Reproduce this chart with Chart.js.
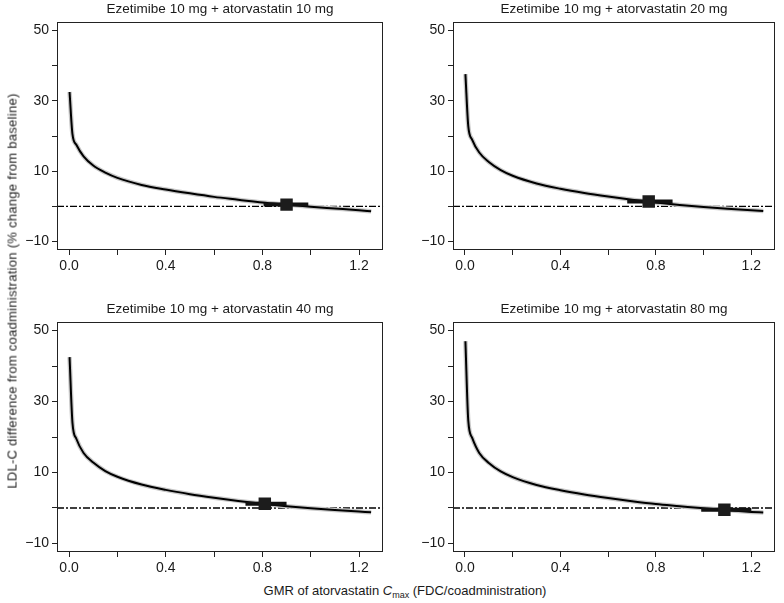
<!DOCTYPE html>
<html>
<head>
<meta charset="utf-8">
<script src="https://cdn.jsdelivr.net/npm/chart.js@4.4.1/dist/chart.umd.min.js"></script>
<style>
  html, body { margin: 0; padding: 0; background: #fff; }
  body { width: 784px; height: 603px; position: relative; overflow: hidden; font-family: "Liberation Sans", Arial, sans-serif; color: #1a1a1a; }
  canvas { position: absolute; }
  #ytitle { position: absolute; left: 12px; top: 291px; white-space: nowrap; font-size: 13px; letter-spacing: 0.28px; color: #222; transform: translate(-50%, -50%) rotate(-90deg); }
  #xtitle { position: absolute; left: 405px; top: 591px; white-space: nowrap; font-size: 13px; transform: translate(-50%, -50%); }
  #xtitle sub { font-size: 9px; vertical-align: -3px; }
</style>
</head>
<body>
<canvas id="c0"></canvas>
<canvas id="c1"></canvas>
<canvas id="c2"></canvas>
<canvas id="c3"></canvas>
<div id="ytitle">LDL-C difference from coadministration (% change from baseline)</div>
<div id="xtitle">GMR of atorvastatin <i>C</i><sub>max</sub> (FDC/coadministration)</div>
<script>
// ---- data ----
const panelTitles = [
  'Ezetimibe 10 mg + atorvastatin 10 mg',
  'Ezetimibe 10 mg + atorvastatin 20 mg',
  'Ezetimibe 10 mg + atorvastatin 40 mg',
  'Ezetimibe 10 mg + atorvastatin 80 mg'
];
const xTickLabels = ['0.0', '', '0.4', '', '0.8', '', '1.2'];
const yTickLabels = ['\u221210', '', '10', '', '30', '', '50'];
const curveX   = [0.002, 0.014, 0.03, 0.06, 0.1, 0.15, 0.2, 0.3, 0.4, 0.5, 0.6, 0.7, 0.8, 0.9, 1.0, 1.1, 1.2, 1.25];
const curve10  = [32.5, 20.5, 17.5, 14.2, 11.6, 9.6, 8.1, 6.1, 4.8, 3.7, 2.7, 1.9, 1.1, 0.5, -0.1, -0.6, -1.1, -1.4];
const curve20  = [37.6, 22.8, 19.0, 15.3, 12.6, 10.3, 8.7, 6.5, 5.0, 3.8, 2.8, 1.9, 1.1, 0.4, -0.2, -0.7, -1.1, -1.3];
const curve40  = [42.5, 24.0, 19.5, 15.5, 12.8, 10.4, 8.8, 6.6, 5.1, 3.9, 2.9, 2.0, 1.2, 0.5, -0.1, -0.6, -1.0, -1.2];
const curve80  = [47.0, 24.6, 19.8, 15.5, 12.7, 10.3, 8.7, 6.5, 5.0, 3.8, 2.8, 1.9, 1.1, 0.5, -0.1, -0.6, -1.1, -1.3];
const markerX  = [0.90, 0.77, 0.81, 1.087];
const markerY  = [0.5, 1.4, 1.2, -0.5];
const ciLow    = [0.805, 0.68, 0.73, 0.99];
const ciHigh   = [0.99, 0.87, 0.90, 1.20];
const refLineY = 0;
const xMin = -0.05, xMax = 1.30, yMin = -12.4, yMax = 52.4;

// ---- layout (positions/sizes only) ----
const boxes = [
  { left: 0,   top: 0,   width: 392, height: 280, padRight: 8.5 },
  { left: 396, top: 0,   width: 388, height: 280, padRight: 3 },
  { left: 0,   top: 300, width: 392, height: 282, padRight: 8.5 },
  { left: 396, top: 300, width: 388, height: 282, padRight: 3 }
];
const curves = [curve10, curve20, curve40, curve80];
const FONT = '"Liberation Sans", Arial, sans-serif';

const framePlugin = {
  id: 'frame',
  afterDatasetsDraw(chart) {
    const a = chart.chartArea, ctx = chart.ctx;
    ctx.save();
    ctx.strokeStyle = '#222';
    ctx.lineWidth = 1;
    ctx.strokeRect(Math.round(a.left) + 0.5, Math.round(a.top) + 0.5,
                   Math.round(a.right - a.left) - 1, Math.round(a.bottom - a.top) - 1);
    ctx.restore();
  }
};

boxes.forEach((b, i) => {
  const cv = document.getElementById('c' + i);
  cv.width = b.width; cv.height = b.height;
  cv.style.left = b.left + 'px'; cv.style.top = b.top + 'px';
  cv.style.width = b.width + 'px'; cv.style.height = b.height + 'px';
  const curvePts = curveX.map((x, j) => ({ x: x, y: curves[i][j] }));
  new Chart(cv, {
    type: 'scatter',
    data: {
      datasets: [
        { label: 'Estimate', data: [{ x: markerX[i], y: markerY[i] }], pointStyle: 'rect',
          pointRadius: 8.8, backgroundColor: '#1c1c1c', borderColor: '#1c1c1c', borderWidth: 0, order: 0 },
        { label: 'CI', data: [{ x: ciLow[i], y: markerY[i] }, { x: ciHigh[i], y: markerY[i] }],
          showLine: true, borderColor: '#111', borderWidth: 4, pointRadius: 0, order: 1 },
        { label: 'Curve', data: curvePts, showLine: true, borderColor: '#000', borderWidth: 2,
          pointRadius: 0, cubicInterpolationMode: 'monotone', order: 2 },
        { label: 'Band', data: curvePts, showLine: true, borderColor: '#c8c8c8', borderWidth: 4.5,
          pointRadius: 0, cubicInterpolationMode: 'monotone', order: 3 },
        { label: 'Reference', data: [{ x: xMin, y: refLineY }, { x: xMax, y: refLineY }], showLine: true,
          borderColor: '#000', borderWidth: 1.4, borderDash: [7, 2, 2, 2], pointRadius: 0, order: 4 }
      ]
    },
    options: {
      responsive: false,
      animation: false,
      events: [],
      layout: { padding: { left: 0, right: b.padRight, top: 0, bottom: 0 } },
      plugins: {
        legend: { display: false },
        tooltip: { enabled: false },
        title: { display: true, text: panelTitles[i], fullSize: false, color: '#1a1a1a',
                 font: { family: FONT, size: 13.5, weight: 'normal' }, padding: { top: 1.5, bottom: 4.3 } }
      },
      scales: {
        x: {
          type: 'linear', min: xMin, max: xMax,
          afterFit: s => { s.height = 30; },
          border: { display: false },
          grid: { display: true, drawOnChartArea: false, drawTicks: true, tickLength: 5, color: '#222' },
          ticks: { stepSize: 0.2, includeBounds: false, autoSkip: false, maxRotation: 0, padding: 3,
                   color: '#1a1a1a', font: { family: FONT, size: 14 },
                   callback: (v, idx) => xTickLabels[idx] }
        },
        y: {
          type: 'linear', min: yMin, max: yMax,
          afterFit: s => { s.width = 57; },
          border: { display: false },
          grid: { display: true, drawOnChartArea: false, drawTicks: true, tickLength: 5, color: '#222' },
          ticks: { stepSize: 10, includeBounds: false, autoSkip: false, padding: 3,
                   color: '#1a1a1a', font: { family: FONT, size: 14 },
                   callback: (v, idx) => yTickLabels[idx] }
        }
      }
    },
    plugins: [framePlugin]
  });
});
</script>
</body>
</html>
